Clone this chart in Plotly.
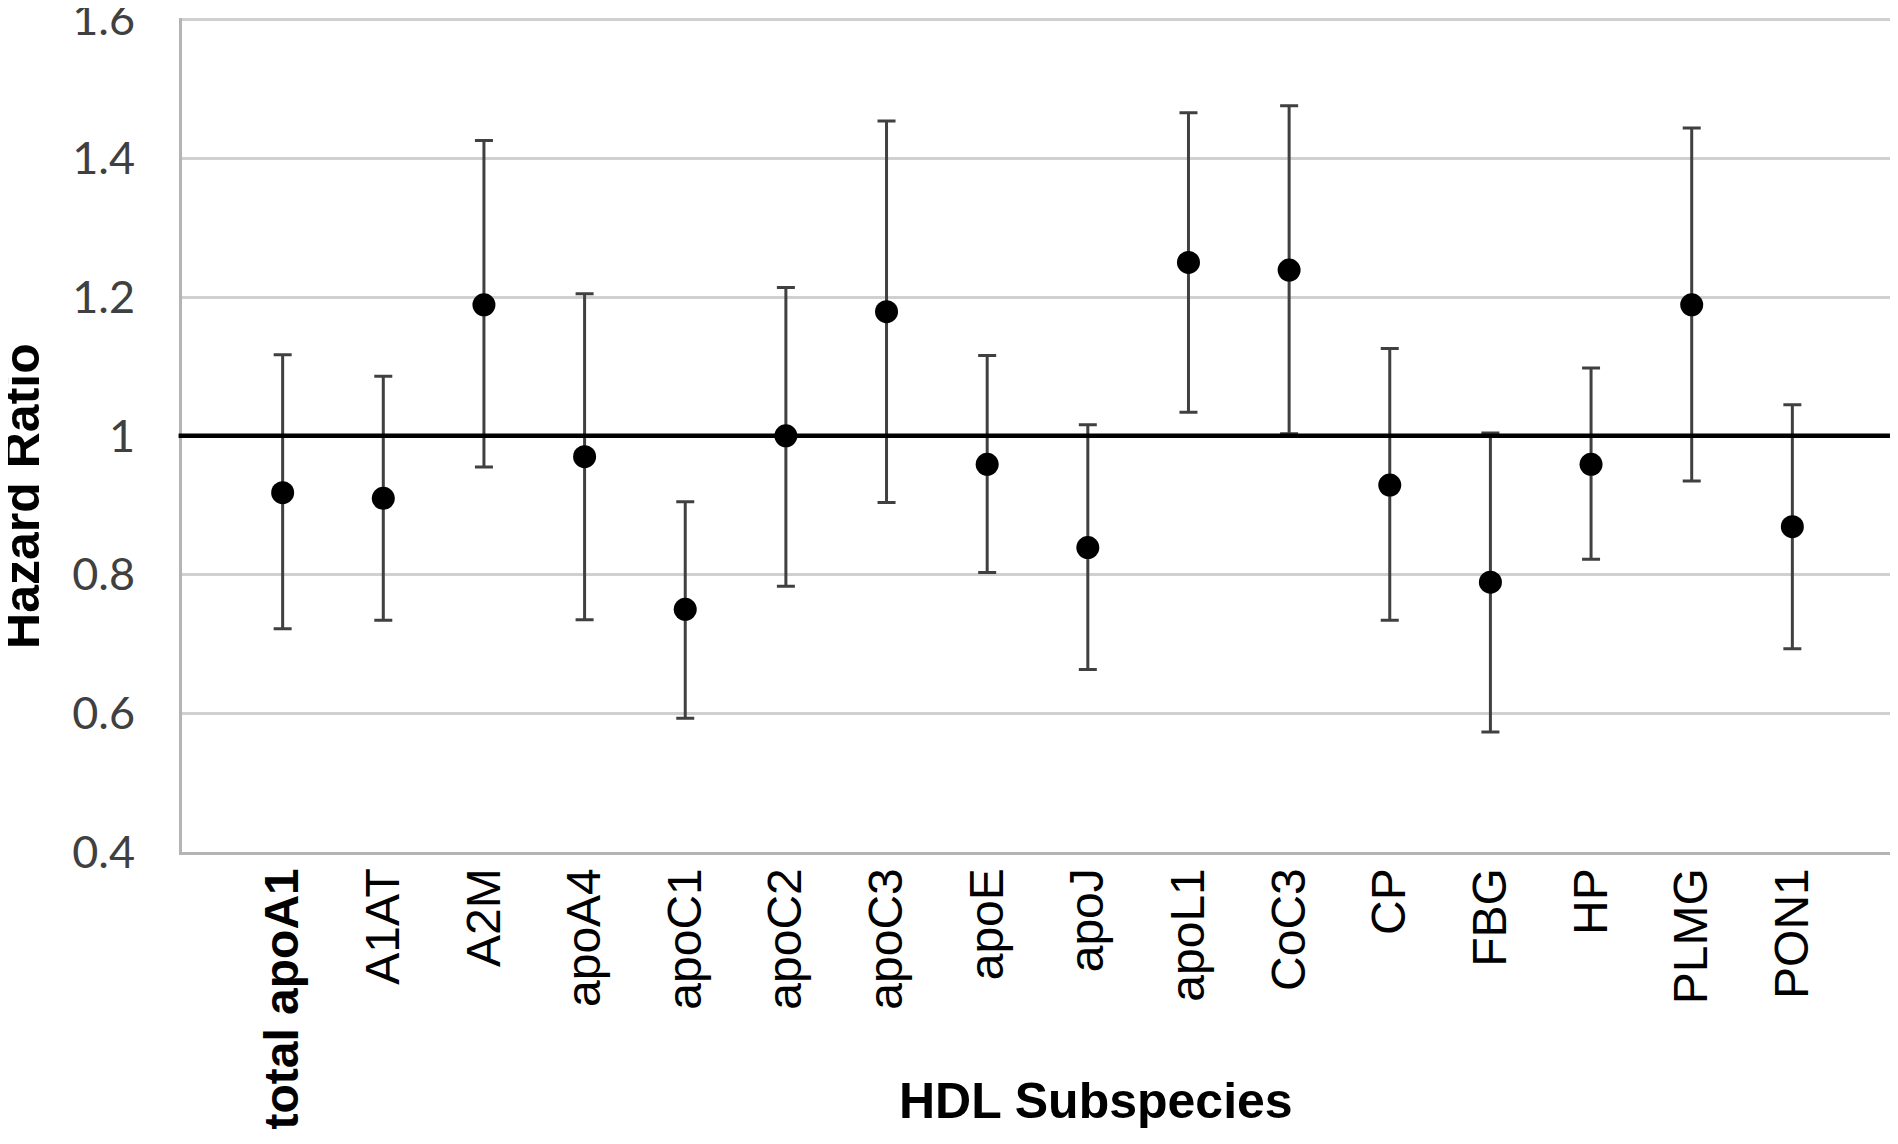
import plotly.graph_objects as go

categories = ["<b>total apoA1</b>", "A1AT", "A2M", "apoA4", "apoC1", "apoC2", "apoC3", "apoE",
              "apoJ", "apoL1", "CoC3", "CP", "FBG", "HP", "PLMG", "PON1"]
hazard_ratio = [0.918, 0.910, 1.189, 0.970, 0.750, 1.000, 1.179, 0.959,
                0.839, 1.250, 1.239, 0.929, 0.789, 0.959, 1.189, 0.869]
ci_upper = [1.117, 1.086, 1.426, 1.205, 0.905, 1.214, 1.454, 1.116,
            1.016, 1.466, 1.476, 1.126, 1.004, 1.098, 1.444, 1.045]
ci_lower = [0.722, 0.734, 0.955, 0.735, 0.593, 0.783, 0.904, 0.803,
            0.663, 1.034, 1.003, 0.734, 0.573, 0.822, 0.935, 0.693]
y_ticks = [0.4, 0.6, 0.8, 1.0, 1.2, 1.4, 1.6]
y_tick_text = ["0.4", "0.6", "0.8", "1", "1.2", "1.4", "1.6"]
reference_line = 1.0

err_plus = [u - h for u, h in zip(ci_upper, hazard_ratio)]
err_minus = [h - l for h, l in zip(hazard_ratio, ci_lower)]

fig = go.Figure()
fig.add_trace(go.Scatter(
    x=categories, y=hazard_ratio, mode="markers",
    marker=dict(color="black", size=23),
    error_y=dict(type="data", symmetric=False, array=err_plus, arrayminus=err_minus,
                 color="#404040", thickness=3, width=9),
    showlegend=False,
))

fig.add_shape(type="line", xref="paper", yref="y", x0=-0.002, x1=1, y0=reference_line, y1=reference_line,
              line=dict(color="black", width=4.5), layer="above")

# the page body has an 8px default margin, so the figure is sized/offset to compensate
fig.update_layout(
    width=1890, height=1136,
    margin=dict(l=174, r=5, t=10, b=292),
    plot_bgcolor="white", paper_bgcolor="white",
    xaxis=dict(
        type="category", range=[-1, 16], automargin=False,
        tickangle=-90, showgrid=False, showline=True, linecolor="#b4b4b4", linewidth=3,
        ticks="", tickfont=dict(family="Liberation Sans, Arial", size=48, color="black"),
        ticklabelstandoff=-6,
    ),
    yaxis=dict(
        range=[0.4, 1.6025], tickvals=y_ticks, ticktext=y_tick_text, automargin=False,
        showgrid=True, gridcolor="#d0d0d0", gridwidth=2.5,
        showline=True, linecolor="#b4b4b4", linewidth=3, zeroline=False,
        ticks="", tickfont=dict(family="Lato, Open Sans", size=45, color="#404040"),
        ticklabelstandoff=35, ticklabeloverflow="allow",
    ),
    annotations=[
        dict(text="<b>Hazard Ratio</b>", xref="paper", yref="paper", x=-0.0935, y=0.427,
             xanchor="center", yanchor="middle", textangle=-90, showarrow=False,
             font=dict(family="Liberation Sans, Arial", size=50, color="black")),
        dict(text="<b>HDL Subspecies</b>", xref="paper", yref="paper", x=0.534, y=-0.298,
             xanchor="center", yanchor="middle", showarrow=False,
             font=dict(family="Liberation Sans, Arial", size=50, color="black")),
    ],
)

fig.write_html("out.html")
